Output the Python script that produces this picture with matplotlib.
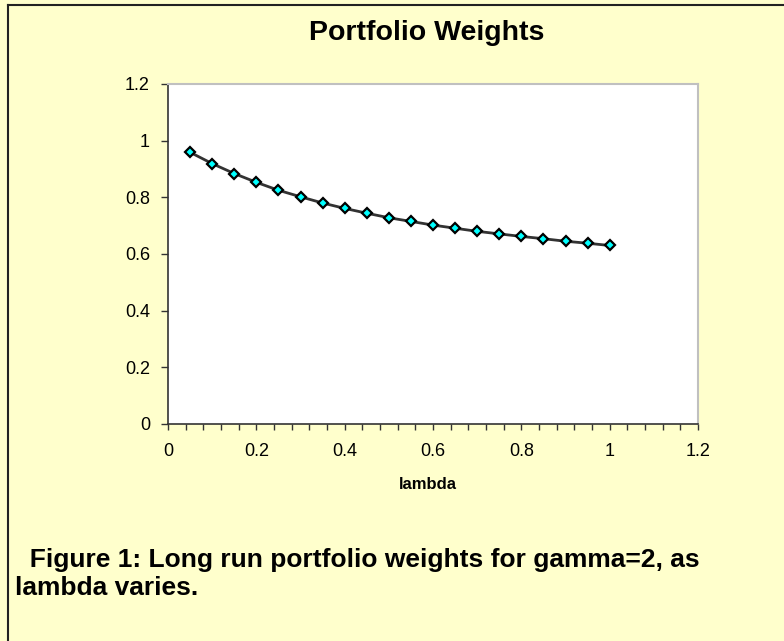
import matplotlib
matplotlib.use("Agg")
import matplotlib.pyplot as plt
from matplotlib.lines import Line2D
from matplotlib.ticker import MultipleLocator, FuncFormatter

plt.rcParams['font.family'] = ['Liberation Sans', 'DejaVu Sans']

# data
lam = [0.05, 0.10, 0.15, 0.20, 0.25, 0.30, 0.35, 0.40, 0.45, 0.50,
       0.55, 0.60, 0.65, 0.70, 0.75, 0.80, 0.85, 0.90, 0.95, 1.00]
weights = [0.959, 0.919, 0.884, 0.853, 0.825, 0.802, 0.780, 0.761, 0.744, 0.728,
           0.715, 0.702, 0.691, 0.680, 0.671, 0.662, 0.654, 0.645, 0.638, 0.630]

title = "Portfolio Weights"
xlabel = "lambda"
caption = ["  Figure 1: Long run portfolio weights for gamma=2, as", "lambda varies."]

bg = '#FFFFCC'

fig = plt.figure(figsize=(7.84, 6.41), dpi=100, facecolor=bg)
ax = fig.add_axes([168/784, 1 - 424/641, 530/784, 340/641])
ax.set_facecolor('white')

ax.plot(lam, weights, color='#333333', lw=2, marker='D', markersize=5.5,
        markerfacecolor='#00FFFF', markeredgecolor='black', markeredgewidth=1.6,
        zorder=3)

ax.set_xlim(0, 1.2)
ax.set_ylim(0, 1.2)
ax.xaxis.set_major_locator(MultipleLocator(0.2))
ax.xaxis.set_minor_locator(MultipleLocator(0.04))
ax.yaxis.set_major_locator(MultipleLocator(0.2))
fmt = FuncFormatter(lambda v, p: f"{v:g}")
ax.xaxis.set_major_formatter(fmt)
ax.yaxis.set_major_formatter(fmt)

ax.tick_params(axis='both', which='both', direction='out', labelsize=13,
               color='#333333', width=1)
ax.tick_params(axis='x', which='major', length=4, pad=10)
ax.tick_params(axis='x', which='minor', length=4)
ax.tick_params(axis='y', which='major', length=5, pad=8)

for side in ['left', 'bottom']:
    ax.spines[side].set_color('#333333')
    ax.spines[side].set_linewidth(1.2)
for side in ['top', 'right']:
    ax.spines[side].set_color('#C0C0C0')
    ax.spines[side].set_linewidth(1.5)

fig.text(427/784, 1 - 33/641, title, ha='center', va='center',
         fontsize=20.5, fontweight='bold')
fig.text(428/784, 1 - 489/641, xlabel, ha='center', va='baseline',
         fontsize=12, fontweight='bold')
fig.text(15/784, 1 - 567/641, caption[0], ha='left', va='baseline',
         fontsize=19, fontweight='bold')
fig.text(15/784, 1 - 595/641, caption[1], ha='left', va='baseline',
         fontsize=19, fontweight='bold')

# outer frame: only top and left edges show
fig.add_artist(Line2D([8/784, 8/784], [0, 1 - 5/641], transform=fig.transFigure,
                      color='#222222', lw=1.5))
fig.add_artist(Line2D([8/784, 1], [1 - 5/641, 1 - 5/641], transform=fig.transFigure,
                      color='#222222', lw=1.5))

fig.savefig("out.png", dpi=100, facecolor=bg)
